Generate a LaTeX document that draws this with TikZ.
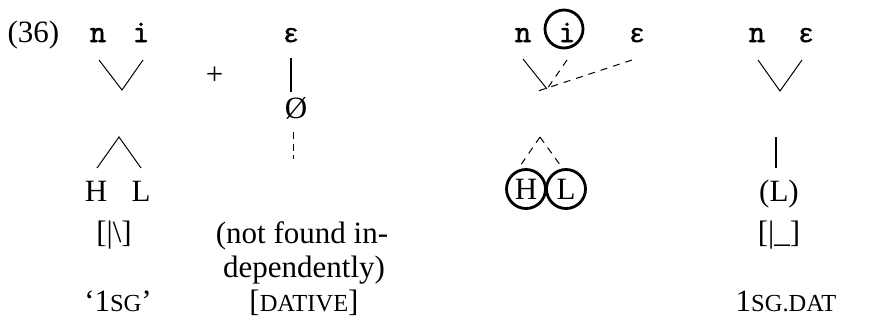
\documentclass[tikz,border=0pt]{standalone}
\usepackage{fontspec}
\setmainfont{Liberation Serif}
\newfontfamily\segtt[FakeBold=2]{Latin Modern Mono}
\newfontfamily\segfont[FakeBold=1.5]{Liberation Mono}
\newcommand{\smc}[1]{{\fontsize{24.5}{28}\selectfont #1}}
\begin{document}
\begin{tikzpicture}[x=1pt,y=-1pt,
  txt/.style={anchor=base,inner sep=0pt,font=\fontsize{31}{36}\selectfont},
  seg/.style={anchor=base,inner sep=0pt,font=\fontsize{32}{36}\selectfont\segtt},
  sege/.style={anchor=base,inner sep=0pt,font=\fontsize{26}{30}\selectfont\segfont},
  assoc/.style={line width=1pt},
  thickassoc/.style={line width=2pt},
  dashone/.style={line width=1pt,dash pattern=on 7pt off 4.5pt},
  dashtwo/.style={line width=1pt,dash pattern=on 7pt off 6pt},
  ring/.style={circle,draw,line width=2.8pt,minimum size=39pt,inner sep=0pt,font=\fontsize{31}{36}\selectfont}]
\useasboundingbox (0,0) rectangle (869,327);

% column 1
\node[txt] (ex) at (33.5,42) {(36)};
\node[seg] (n1) at (98,42) {n};
\node[seg] (i1) at (141,42) {i};
\coordinate (v1l) at (99,60);
\coordinate (v1b) at (122,90);
\coordinate (v1r) at (143,60);
\draw[assoc] (v1l) -- (v1b) -- (v1r);
\coordinate (a1l) at (97,168);
\coordinate (a1t) at (119,137);
\coordinate (a1r) at (141,168);
\draw[assoc] (a1l) -- (a1t) -- (a1r);
\node[txt] (H1) at (96,201) {H};
\node[txt] (L1) at (141,201) {L};
\node[txt] (tone1) at (114,242) {[|\textbackslash]};
\node[txt] (gl1) at (118,311) {‘1\smc{SG}’};

\node[txt] (plus) at (214.5,84) {+};

% column 2
\node[sege] (e2) at (291,42) {ɛ};
\coordinate (e2a) at (291,58);
\coordinate (e2b) at (291,92);
\draw[thickassoc] (e2a) -- (e2b);
\node[txt] (null) at (296,118) {Ø};
\coordinate (d2a) at (293,132);
\coordinate (d2b) at (293,159);
\draw[dashone] (d2a) -- (d2b);
\node[txt] (nf1) at (302,243) {(not found in-};
\node[txt] (nf2) at (304,277) {dependently)};
\node[txt] (gl2) at (304,311) {[\smc{DATIVE}]};

% column 3
\node[seg] (n3) at (523,42) {n};
\node[seg] (i3) at (567,42) {i};
\node[sege] (e3) at (637,42) {ɛ};
\node[ring,minimum size=38pt] (ri) at (564,29) {};
\coordinate (mn) at (523,59);
\coordinate (mi) at (567,60);
\coordinate (me) at (632,60);
\coordinate (mj) at (547,89);
\coordinate (mje) at (538,91);
\draw[assoc] (mn) -- (mj);
\draw[dashtwo] (mi) -- (mj);
\draw[dashtwo] (me) -- (mje);
\coordinate (a3l) at (518,169);
\coordinate (a3t) at (540,137);
\coordinate (a3r) at (563,169);
\draw[dashtwo] (a3t) -- (a3l);
\draw[dashtwo] (a3t) -- (a3r);
\node[ring] (cH) at (526,189) {H};
\node[ring] (cL) at (566,189) {L};

% column 4
\node[seg] (n4) at (757,42) {n};
\node[sege] (e4) at (806,42) {ɛ};
\coordinate (v4l) at (758,60);
\coordinate (v4b) at (780,91);
\coordinate (v4r) at (802,60);
\draw[assoc] (v4l) -- (v4b) -- (v4r);
\coordinate (l4a) at (776,137);
\coordinate (l4b) at (776,168);
\draw[thickassoc] (l4a) -- (l4b);
\node[txt] (L4) at (779,201) {(L)};
\node[txt] (tone4) at (779,242) {[|\_]};
\node[txt] (gl4) at (786,311) {1\smc{SG.DAT}};
\end{tikzpicture}
\end{document}
